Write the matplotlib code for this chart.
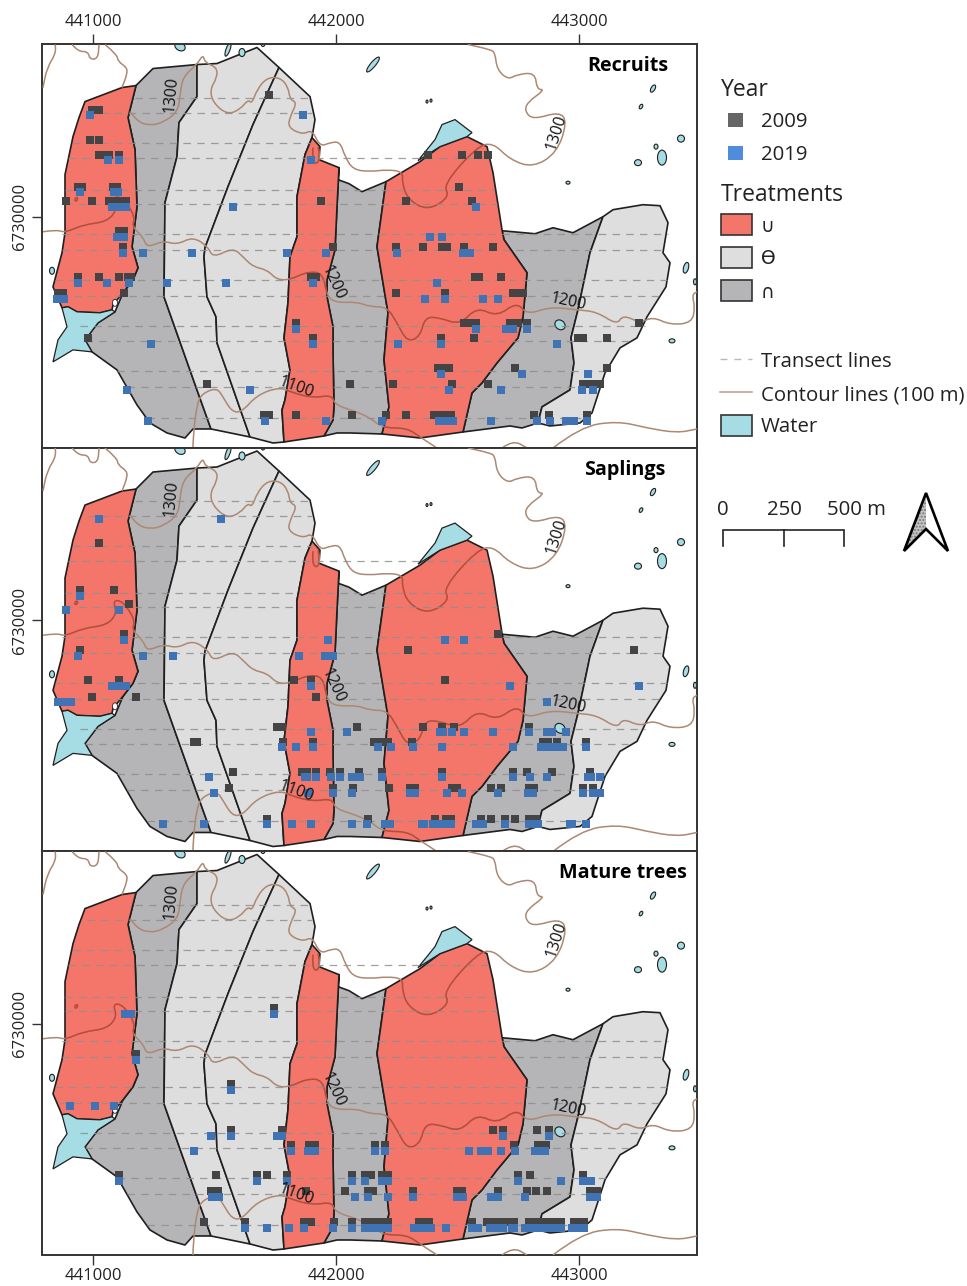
#!/usr/bin/env python3
"""Three map panels of tree observations along transects (recruits, saplings, mature trees)."""
import numpy as np
import matplotlib
matplotlib.use("Agg")
import matplotlib.pyplot as plt
from matplotlib.patches import Ellipse, PathPatch, Polygon, Rectangle
from matplotlib.path import Path

plt.rcParams['font.family'] = ['Open Sans', 'DejaVu Sans']

# digitising grid of the map sheet: 0.243 grid units per metre, tied to these two points
GRID_PER_M = 0.243
GRID_E0, GRID_N0 = 93.0, 217.0
EAST0, NORTH0 = 441000, 6730000

x_ticks = [441000, 442000, 443000]
y_ticks = [6730000]
panel_titles = ["Recruits", "Saplings", "Mature trees"]

# ======= Treatment polygons (digitised grid units) =======
red_west = [(136, 86), (122, 88), (85, 102), (79, 118), (73, 137), (65, 175), (65, 233), (62, 253), (53, 287), (62, 308),
            (68, 307), (77, 312), (100, 313), (112, 310), (113, 305), (123, 293), (133, 280), (138, 268), (132, 247),
            (137, 207), (135, 150), (128, 118)]
red_mid = [(312, 138), (320, 147), (319, 160), (339, 168), (337, 207), (335, 250), (327, 280), (327, 297), (333, 327),
           (333, 353), (334, 407), (333, 420), (324, 436), (284, 442), (282, 410), (285, 400), (290, 370), (284, 338),
           (288, 303), (290, 257), (297, 237), (297, 197), (305, 155)]
red_east = [(386, 182), (420, 162), (440, 147), (467, 137), (487, 147), (493, 173), (502, 230), (504, 240), (527, 273),
            (523, 317), (518, 338), (497, 363), (482, 383), (472, 393), (463, 432), (420, 438), (382, 434), (389, 407),
            (384, 360), (388, 313), (377, 247)]
dark_west = [(136, 86), (153, 69), (197, 65), (197, 97), (179, 123), (177, 157), (165, 203), (164, 297), (197, 390),
             (211, 429), (193, 429), (185, 438), (167, 433), (150, 423), (137, 405), (117, 370), (92, 352), (85, 340),
             (98, 323), (115, 312), (123, 293), (133, 280), (138, 268), (132, 247), (137, 207), (135, 150), (128, 118)]
dark_mid = [(339, 168), (338, 180), (349, 184), (362, 192), (386, 182), (377, 247), (388, 313), (384, 360), (389, 407),
            (382, 434), (350, 433), (337, 433), (324, 436), (333, 420), (334, 407), (333, 353), (333, 327), (327, 297),
            (327, 280), (335, 250), (337, 207)]
dark_east = [(502, 231), (535, 234), (553, 228), (573, 233), (603, 217), (590, 253), (578, 310), (571, 338), (574, 363),
             (570, 390), (542, 407), (538, 423), (522, 428), (510, 426), (463, 432), (472, 393), (482, 383), (497, 363),
             (518, 338), (523, 317), (527, 273), (504, 240)]
light_a = [(197, 65), (217, 64), (257, 48), (279, 68), (253, 125), (228, 187), (205, 248), (204, 257), (207, 297),
           (216, 317), (217, 343), (250, 437), (211, 429), (197, 390), (164, 297), (165, 203), (177, 157), (179, 123),
           (197, 97)]
light_b = [(279, 68), (310, 97), (315, 120), (312, 138), (305, 155), (297, 197), (297, 237), (290, 257), (288, 303),
           (284, 338), (290, 370), (285, 400), (282, 410), (284, 442), (273, 443), (250, 437), (217, 343), (216, 317),
           (207, 297), (204, 257), (205, 248), (228, 187), (253, 125)]
light_c = [(603, 217), (613, 210), (643, 205), (660, 206), (668, 223), (663, 253), (670, 263), (666, 287), (647, 317),
           (637, 338), (620, 348), (605, 373), (592, 413), (580, 423), (550, 426), (538, 423), (542, 407), (570, 390),
           (574, 363), (571, 338), (578, 310), (590, 253)]

# ======= Water bodies =======
lake_west = [(62, 308), (67, 327), (58, 340), (53, 362), (73, 350), (92, 352), (85, 340), (98, 323), (115, 312),
             (112, 310), (100, 313), (77, 312), (68, 307)]
lake_north = [(418, 161), (435, 140), (442, 125), (455, 120), (472, 133), (467, 137), (440, 147)]
pond_x = [653, 641, 681, 662, 656, 638, 568, 427, 431, 686, 695, 672, 560, 373, 180, 228, 242, 263, 52]
pond_y = [89, 107, 139, 158, 147, 163, 183, 102, 101, 268, 282, 341, 325, 65, 47, 50, 53, 44, 271]
pond_w = [4, 3, 7, 9, 4, 7, 4, 2, 2, 5, 3, 6, 11, 5, 11, 4, 6, 4, 5]
pond_h = [8, 5, 7, 15, 5, 6, 3, 3, 3, 11, 6, 4, 9, 19, 8, 14, 8, 6, 7]
pond_rot = [-30, -30, -40, 0, 0, 0, 0, 0, 0, -15, 0, 0, -40, -40, -30, -20, 0, 0, 0]

# ======= Contour lines =======
contour_a = [(55, 45), (57, 52), (47, 68), (43, 88)]
contour_b = [(72, 45), (78, 52), (88, 52), (90, 60), (98, 59), (99, 45)]
contour_c = [(105, 45), (117, 55), (118, 62), (127, 68), (127, 75), (122, 88)]
contour_1300 = [(130, 112), (137, 122), (150, 126), (163, 123), (178, 112), (180, 95), (183, 77), (197, 65), (203, 55),
                (205, 63), (217, 68), (217, 78), (210, 90), (213, 103), (227, 115), (240, 110), (248, 100), (252, 104),
                (257, 90), (267, 78), (280, 78), (288, 87), (290, 100), (297, 103), (290, 117), (288, 128), (303, 135),
                (312, 130), (320, 147), (330, 143), (340, 142), (345, 157), (353, 170), (370, 172), (387, 170),
                (403, 172), (402, 183), (408, 200), (428, 211), (450, 197), (443, 185), (477, 147), (493, 143),
                (510, 160), (533, 168), (557, 153), (567, 123), (560, 112), (533, 120), (525, 112), (527, 103),
                (545, 90), (537, 90), (535, 73), (517, 75), (508, 80), (497, 70), (495, 53), (490, 50), (468, 45)]
contour_1200_west = [(43, 232), (57, 230), (65, 233), (83, 225), (107, 222), (117, 210), (113, 198), (120, 197),
                     (128, 205), (135, 218), (132, 227), (143, 237), (147, 248), (163, 241), (177, 245), (193, 237),
                     (208, 247), (213, 258), (233, 248), (243, 257), (253, 267), (267, 270), (277, 280), (290, 280),
                     (307, 272), (323, 273), (327, 297), (337, 303), (357, 302), (370, 307), (387, 307), (397, 323),
                     (407, 342), (420, 337), (425, 317), (440, 318), (460, 325), (477, 307), (497, 317), (517, 302),
                     (527, 315), (550, 307), (577, 310), (597, 312), (617, 325), (623, 315), (640, 323), (653, 317),
                     (670, 325), (692, 323), (695, 307), (692, 295), (697, 292)]
contour_1100_west = [(193, 448), (193, 437), (197, 403), (203, 393), (217, 388), (223, 397), (232, 412), (242, 412),
                     (257, 395), (280, 387), (293, 393), (313, 398), (332, 395), (335, 405), (357, 412), (370, 418),
                     (383, 428), (407, 428), (420, 437), (437, 448)]
contour_1100_mid = [(502, 448), (513, 440), (527, 448)]
contour_1100_east = [(553, 448), (580, 427), (617, 421), (647, 428), (677, 433), (697, 429)]
contour_ring = [(75, 199), (77, 197), (78, 200), (75, 202), (75, 199)]
contour_hook = [(313, 148), (312, 160), (317, 165), (320, 157), (318, 147)]
contour_lines = [contour_a, contour_b, contour_c, contour_1300, contour_1200_west, contour_1100_west,
                 contour_1100_mid, contour_1100_east, contour_ring, contour_hook]

contour_text = ["1300", "1300", "1200", "1200", "1100"]
contour_text_x = [171, 556, 333, 568, 296]
contour_text_y = [95, 133, 283, 302, 388]
contour_text_rot = [85, 72, -65, -12, -20]

# ======= Transects: row position and extents =======
transect_y = [98, 113, 143, 158, 190, 204, 234, 250, 280, 296, 326, 341, 371, 387, 418]
transect_x0 = [135, 87, 73, 68, 65, 65, 62, 62, 55, 60, 80, 85, 117, 127, 147]
transect_x1 = [308, 312, 312, 490, 494, 497, 668, 665, 667, 660, 645, 628, 607, 600, 587]

# ======= Observations: x position per transect row =======
recruits_2009 = [[269], [92, 99], [90, 99], [99, 105, 109, 119, 428, 462, 478, 488], [78, 82, 113, 117, 459],
                 [66, 92, 109, 117, 122, 126, 321, 406, 472], [119, 124],
                 [123, 333, 396, 423, 442, 447, 464, 493], [78, 99, 119, 128, 131, 311, 316, 475, 479, 501],
                 [58, 63, 124, 396, 445, 513, 520, 523], [296, 464, 469, 476, 510, 518, 527, 639],
                 [88, 313, 441, 474, 578, 583, 607], [438, 443, 449, 515, 607],
                 [207, 350, 393, 452, 488, 583, 587, 593, 600],
                 [264, 269, 296, 352, 386, 406, 434, 440, 446, 451, 534, 549, 587]]
recruits_2019 = [[], [90, 303], [], [108, 119, 311], [80, 114, 118], [112, 118, 126, 233, 476], [117, 124, 430, 442],
                 [123, 143, 192, 287, 326, 397, 463, 470], [78, 107, 129, 167, 226, 313, 437],
                 [57, 64, 425, 445, 483, 498], [296, 476, 506, 513, 527], [151, 313, 398, 441, 557], [441, 522, 588],
                 [127, 250, 449, 501, 582, 593],
                 [148, 265, 326, 382, 439, 445, 450, 453, 491, 537, 550, 566, 574, 587]]
saplings_2009 = [[], [], [99], [], [80, 114], [129], [124, 498], [80, 408, 634], [88, 119, 294, 311, 445],
                 [92, 136, 316], [277, 282, 357, 423, 442, 454, 529],
                 [194, 197, 283, 313, 374, 381, 388, 412, 543, 548, 557, 586],
                 [233, 302, 307, 316, 330, 340, 359, 382, 442, 513, 527, 552, 590],
                 [229, 333, 353, 389, 410, 415, 452, 457, 491, 501, 529, 534, 583, 593],
                 [267, 368, 435, 446, 451, 481, 491, 505, 515, 529, 535, 536]]
saplings_2019 = [[], [99, 221], [], [], [80], [66, 119], [124, 328, 445, 464], [78, 143, 173, 299, 325, 333],
                 [112, 119, 126, 311, 510, 639], [58, 63, 71, 547],
                 [311, 347, 440, 443, 452, 464, 493, 529, 547, 552, 566],
                 [282, 296, 313, 378, 391, 413, 442, 513, 541, 548, 555, 563, 586],
                 [209, 305, 307, 316, 331, 340, 352, 360, 382, 442, 513, 530, 547, 588, 591, 600],
                 [214, 308, 333, 352, 410, 415, 447, 462, 498, 528, 533, 583, 593, 600],
                 [163, 204, 267, 292, 311, 352, 367, 385, 390, 422, 424, 433, 441, 447, 451, 476, 483, 505, 529, 535,
                  538, 570, 572, 586]]
mature_2009 = [[], [], [], [], [], [274], [], [136], [231], [], [231, 282, 493, 503, 537, 549],
               [291, 309, 315, 375, 385, 514, 538, 546],
               [119, 216, 257, 267, 287, 352, 365, 371, 382, 388, 518, 530, 583],
               [211, 218, 306, 345, 368, 373, 413, 457, 462, 498, 527, 536, 547, 590, 597],
               [204, 245, 304, 311, 334, 352, 365, 372, 378, 384, 388, 419, 425, 429, 472, 487, 493, 500, 507, 514,
                529, 536, 543, 550, 557, 561, 574, 580, 584]]
mature_2019 = [[], [], [], [], [], [125, 131, 274], [], [136], [231], [70, 95, 114],
               [211, 231, 277, 282, 503, 549],
               [194, 291, 308, 315, 375, 385, 469, 481, 488, 501, 515, 535, 540, 545],
               [119, 257, 287, 352, 365, 382, 388, 518, 561, 583, 591],
               [212, 219, 355, 368, 388, 413, 457, 463, 491, 498, 525, 590, 597],
               [245, 267, 289, 304, 333, 352, 365, 372, 378, 384, 388, 414, 420, 426, 431, 446, 472, 478, 490, 496,
                503, 512, 514, 525, 533, 540, 547, 554, 561, 572, 578, 584]]
panel_2009 = [recruits_2009, saplings_2009, mature_2009]
panel_2019 = [recruits_2019, saplings_2019, mature_2019]

# ======= Styles =======
RED = '#f4766a'
LIGHT = '#dedede'
DARK = '#b5b4b6'
WATER = '#a6dce4'
CONTOUR = '#ad8872'
CONTOUR_RED = '#bd4a3a'
TRANSECT = '#8f8f8f'
EDGE = '#1f1f1f'
POINT_2009 = '#444444'
POINT_2019 = '#3f73b3'
FRAME = '#333333'
W, H = 967, 1286


def to_map(pts):
    pts = np.asarray(pts, dtype=float)
    east = EAST0 + (pts[:, 0] - GRID_E0) / GRID_PER_M
    north = NORTH0 + (GRID_N0 - pts[:, 1]) / GRID_PER_M
    return np.column_stack([east, north])


def pixel_axes(fig, left, top, right, bottom):
    return fig.add_axes([left / W, 1 - bottom / H, (right - left) / W, (bottom - top) / H])


def rounded_path(xy):
    # the digitised vertices act as bezier control points, so the contour bends instead of kinking
    verts = [xy[0]]
    codes = [Path.MOVETO]
    for i in range(1, len(xy) - 1):
        verts += [xy[i], (xy[i] + xy[i + 1]) / 2]
        codes += [Path.CURVE3, Path.CURVE3]
    verts.append(xy[-1])
    codes.append(Path.LINETO)
    return Path(verts, codes)


def draw_map(ax, pts_2009, pts_2019, title, title_x):
    red_patches = []
    for pts, color in [(dark_west, DARK), (dark_mid, DARK), (dark_east, DARK), (light_a, LIGHT), (light_b, LIGHT),
                       (light_c, LIGHT), (red_west, RED), (red_mid, RED), (red_east, RED)]:
        p = Polygon(to_map(pts), closed=True, facecolor=color, edgecolor=EDGE, linewidth=1.2, joinstyle='round', zorder=2)
        ax.add_patch(p)
        if color == RED:
            red_patches.append(p)
    for pts in [lake_west, lake_north]:
        ax.add_patch(Polygon(to_map(pts), closed=True, facecolor=WATER, edgecolor=EDGE, linewidth=0.9, zorder=2.5))
    for x, y, w, h, rot in zip(pond_x, pond_y, pond_w, pond_h, pond_rot):
        c = to_map([(x, y)])[0]
        ax.add_patch(Ellipse(c, w / GRID_PER_M, h / GRID_PER_M, angle=rot, facecolor=WATER, edgecolor=EDGE,
                             linewidth=0.8, zorder=2.5))
    dot = to_map([(115, 303)])[0]
    ax.add_patch(Ellipse(dot, 5 / GRID_PER_M, 7 / GRID_PER_M, facecolor='white', edgecolor=EDGE, linewidth=0.6, zorder=3))

    for line in contour_lines:
        path = rounded_path(to_map(line))
        ax.add_patch(PathPatch(path, fill=False, edgecolor=CONTOUR, lw=1.1, zorder=3))
        # same line again, red where it crosses a U polygon
        for p in red_patches:
            over = PathPatch(path, fill=False, edgecolor=CONTOUR_RED, lw=1.1, zorder=3.1)
            ax.add_patch(over)
            over.set_clip_path(p)

    for y, x0, x1 in zip(transect_y, transect_x0, transect_x1):
        xy = to_map([(x0, y), (x1, y)])
        ax.plot(xy[:, 0], xy[:, 1], color=TRANSECT, lw=0.9, ls=(0, (6, 5)), alpha=0.85, zorder=3.5)

    # points sit just above (2009) or just below (2019) their transect
    for rows, off, color, z in [(pts_2009, -2.8, POINT_2009, 5), (pts_2019, 2.8, POINT_2019, 6)]:
        pts = [(x, transect_y[i] + off) for i, row in enumerate(rows) for x in row]
        xy = to_map(pts)
        ax.scatter(xy[:, 0], xy[:, 1], marker='s', s=31, color=color, linewidths=0, zorder=z)

    for s, x, y, rot in zip(contour_text, contour_text_x, contour_text_y, contour_text_rot):
        c = to_map([(x, y)])[0]
        ax.text(c[0], c[1], s, rotation=rot, rotation_mode='anchor', ha='center', va='center', fontsize=11.5,
                color='#111111', zorder=7)

    t = to_map([(title_x, 66.5)])[0]
    ax.text(t[0], t[1], title, ha='right', va='center', fontsize=14.2, fontweight='bold', color='black', zorder=8)

    ax.set_xlim(to_map([(42, 0)])[0, 0], to_map([(697, 0)])[0, 0])
    ax.set_ylim(to_map([(0, 447.5)])[0, 1], to_map([(0, 44.5)])[0, 1])
    ax.set_xticks(x_ticks)
    ax.set_yticks(y_ticks)
    ax.set_xticklabels([str(v) for v in x_ticks])
    ax.set_yticklabels([str(v) for v in y_ticks], rotation=90, va='center')
    for s in ax.spines.values():
        s.set_color(FRAME)
        s.set_linewidth(1.4)
    ax.tick_params(length=7, width=1, color=FRAME, labelsize=12, labelcolor='#222222', pad=3)
    ax.set_zorder(2)


def draw_legend(ax):
    ax.set_xlim(0, W)
    ax.set_ylim(H, 0)
    ax.axis('off')
    tc = '#222222'
    fs = 14.7
    ax.text(721, 90, "Year", fontsize=16.5, va='center', color=tc)
    ax.add_patch(Rectangle((728, 113), 15, 14, facecolor='#666666', edgecolor='none'))
    ax.text(761, 122, "2009", fontsize=fs, va='center', color=tc)
    ax.add_patch(Rectangle((728, 146), 15, 14, facecolor='#4f8cdb', edgecolor='none'))
    ax.text(761, 155, "2019", fontsize=fs, va='center', color=tc)
    ax.text(721, 195, "Treatments", fontsize=16.5, va='center', color=tc)
    for y, color, s in [(214, RED, "∪"), (247, LIGHT, "ϴ"), (280, DARK, "∩")]:
        ax.add_patch(Rectangle((720.5, y), 31, 20.5, facecolor=color, edgecolor='#333333', linewidth=1.2))
        ax.text(761, y + 12, s, fontsize=13.5, va='center', color=tc, family=['DejaVu Sans'])
    ax.plot([720, 752], [359, 359], color='#b8b8b8', lw=1, ls=(0, (5, 5)))
    ax.text(761, 362, "Transect lines", fontsize=fs, va='center', color=tc)
    ax.plot([720, 752], [392, 392], color='#c09a8a', lw=1.1)
    ax.text(761, 395, "Contour lines (100 m)", fontsize=fs, va='center', color=tc)
    ax.add_patch(Rectangle((720.5, 415), 31, 20.5, facecolor=WATER, edgecolor='#333333', linewidth=1.2))
    ax.text(761, 427, "Water", fontsize=fs, va='center', color=tc)

    # scale bar and north arrow
    ax.text(723, 510, "0", fontsize=fs, va='center', ha='center', color=tc)
    ax.text(784, 510, "250", fontsize=fs, va='center', ha='center', color=tc)
    ax.text(827, 510, "500 m", fontsize=fs, va='center', ha='left', color=tc)
    ax.plot([723, 723, 844, 844], [546, 530, 530, 546], color='#222222', lw=1.2, solid_joinstyle='miter')
    ax.plot([783.5, 783.5], [530, 546], color='#222222', lw=1.2)
    ax.add_patch(Polygon([(926, 493), (926, 529), (904, 551)], closed=True, facecolor='#c4c4c4', hatch='.....',
                         edgecolor='#777777', linewidth=0))
    ax.add_patch(Polygon([(926, 493), (948, 551), (926, 529), (904, 551)], closed=True, fill=False, edgecolor='black',
                         linewidth=1.9, joinstyle='miter'))


def main():
    fig = plt.figure(figsize=(W / 100, H / 100), dpi=100, facecolor='white')
    tops = [44, 447.5, 851]
    title_xs = [668, 665, 687]
    for i, top in enumerate(tops):
        ax = pixel_axes(fig, 42, top, 697, top + 403.5)
        draw_map(ax, panel_2009[i], panel_2019[i], panel_titles[i], title_xs[i])
        if i == 0:
            ax.tick_params(axis='x', top=True, labeltop=True, bottom=False, labelbottom=False)
        elif i == 1:
            ax.tick_params(axis='x', top=False, bottom=False, labelbottom=False)
        else:
            ax.tick_params(axis='x', top=False, bottom=True, labelbottom=True)
    leg = fig.add_axes([0, 0, 1, 1], facecolor='none')
    draw_legend(leg)
    fig.savefig("out.png", dpi=100)


if __name__ == "__main__":
    main()
